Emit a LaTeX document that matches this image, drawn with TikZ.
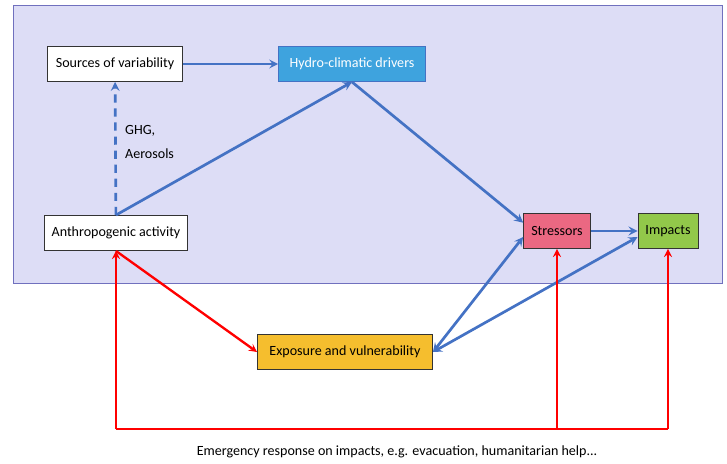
\documentclass[tikz,border=0pt]{standalone}
\usepackage{fontspec}
\setmainfont{Carlito}
\usepackage{xcolor}
\usepackage{tikz}
\usetikzlibrary{shapes.geometric, arrows}
\definecolor{panelfill}{RGB}{221,221,246}
\definecolor{paneldraw}{RGB}{112,112,190}
\definecolor{arrowblue}{RGB}{68,114,196}
\definecolor{hydfill}{RGB}{62,163,222}
\definecolor{strfill}{RGB}{235,104,130}
\definecolor{impfill}{RGB}{146,200,74}
\definecolor{expfill}{RGB}{245,190,46}
\tikzstyle{bnode} = [rectangle, minimum height=1.05cm, text centered, draw=black!80, line width=0.8pt, fill=white, font=\fontsize{12}{14}\selectfont]
\tikzstyle{barrow} = [line width=2.3pt,->,>=stealth,draw=arrowblue]
\tikzstyle{rarrow} = [line width=2pt,->,>=stealth,draw=red]

\begin{document}
\begin{tikzpicture}[x=0.03cm, y=-0.03cm]
\useasboundingbox (0,0) rectangle (727,463);

\draw [fill=panelfill, draw=paneldraw, line width=0.8pt] (13,5) rectangle (722,283);

\node (src) [bnode, minimum width=4.05cm] at (115,64) {Sources of variability};
\node (hyd) [bnode, minimum width=4.4cm, fill=hydfill, draw=arrowblue, text=white] at (352,64) {Hydro-climatic drivers};
\node (ant) [bnode, minimum width=4.3cm] at (116,233) {Anthropogenic activity};
\node (str) [bnode, minimum width=2.0cm, fill=strfill] at (557,231) {Stressors};
\node (imp) [bnode, minimum width=1.8cm, fill=impfill] at (668,231) {Impacts};
\node (exp) [bnode, minimum width=5.25cm, fill=expfill] at (345,352) {Exposure and vulnerability};
\node (ghg) [anchor=west, align=left, font=\fontsize{12}{20}\selectfont] at (121,142) {GHG,\\Aerosols};
\node (emg) [font=\fontsize{12}{14}\selectfont] at (397,452) {Emergency response on impacts, e.g. evacuation, humanitarian help...};

\coordinate (bl) at (116,429);
\coordinate (bm) at (557,429);
\coordinate (br) at (668,429);

\draw [barrow] (src) -- (hyd);
\draw [barrow, dash pattern=on 7pt off 5pt] (ant) -- (src);
\draw [barrow] (ant.north) -- (hyd.south);
\draw [barrow] (hyd.south) -- ([yshift=0.25cm]str.west);
\draw [barrow] (str) -- (imp);
\draw [barrow, <->] (exp.east) -- ([yshift=-0.18cm]str.west);
\draw [barrow, <->] (exp.east) -- ([yshift=-0.18cm]imp.west);

\draw [rarrow] (ant.south) -- (exp.west);
\draw [rarrow] (bl) -- (ant.south);
\draw [red, line width=2pt] (bl) -- (br);
\draw [rarrow] (bm) -- (str.south);
\draw [rarrow] (br) -- (imp.south);
\end{tikzpicture}
\end{document}
